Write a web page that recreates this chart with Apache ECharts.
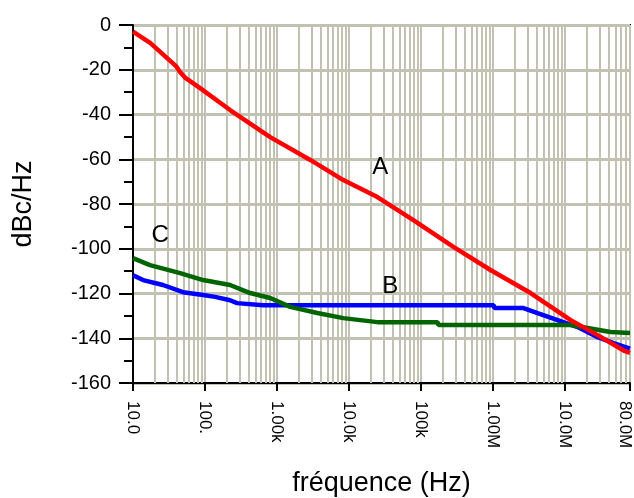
<!DOCTYPE html>
<html><head><meta charset="utf-8">
<script src="https://cdn.jsdelivr.net/npm/echarts@6/dist/echarts.min.js"></script>
<style>html,body{margin:0;padding:0;background:#fff}#c{width:634px;height:498px}</style>
</head><body><div id="c"></div>
<script>
// Frequencies in Hz, values in dBc/Hz
const freqA = [10, 17.3, 40, 45, 52.8, 85.5, 223, 804, 2900, 8340, 24800, 78400, 282000, 923000, 3.33e6, 1.2e7, 2.84e7, 6.53e7, 8e7];
const valA  = [-3, -8, -18.5, -21, -23.5, -28.2, -38, -50.1, -60.3, -69.3, -76.9, -87.2, -99.2, -109.5, -119.8, -131.9, -138.6, -145.5, -146.5];

const freqB = [10, 13.8, 26.1, 49.5, 94.1, 138, 223, 279, 642, 1.02e6, 1.05e6, 2.65e6, 4.16e6, 7.89e6, 1.5e7, 2.84e7, 4.74e7, 8e7];
const valB  = [-111.8, -114, -116.2, -119.4, -120.7, -121.5, -123, -124.3, -125.2, -125.2, -126.5, -126.5, -128.8, -131.9, -135, -139.5, -142.2, -144.6];

const freqC = [10, 17.2, 45.1, 94.1, 223, 424, 804, 1530, 3630, 8340, 24800, 169000, 175000, 1.2e7, 2.06e7, 4.3e7, 8e7];
const valC  = [-104.2, -107.3, -110.9, -114, -116.2, -119.8, -122, -126, -128.7, -131, -132.8, -132.8, -134.1, -134.1, -135.4, -137.2, -137.6];

const tickValues = [10, 100, 1e3, 1e4, 1e5, 1e6, 1e7, 8e7];
const tickLabels = ['10.0', '100.', '1.00k', '10.0k', '100k', '1.00M', '10.0M', '80.0M'];

const labelPos = { A: [27200, -63.5], B: [37500, -117], C: [23.8, -94] };

const minorMult = [2, 3, 4, 5, 6, 7, 8, 9];
const decades = [10, 100, 1e3, 1e4, 1e5, 1e6, 1e7];

const gridColor = '#c2c2b2';
const font = 'Liberation Sans, Arial, sans-serif';

const minorLines = [];
decades.forEach(d => minorMult.forEach(m => { if (d * m < 8e7) minorLines.push({ xAxis: d * m }); }));

function fmt(v) {
  for (let i = 0; i < tickValues.length; i++) {
    if (Math.abs(Math.log10(v) - Math.log10(tickValues[i])) < 0.01) {
      return i === tickValues.length - 1 ? '{last|' + tickLabels[i] + '}' : tickLabels[i];
    }
  }
  return '';
}

function mk(name, freqs, vals, color) {
  return {
    name: name, type: 'line', showSymbol: false, symbol: 'none',
    data: freqs.map((f, i) => [f, vals[i]]),
    lineStyle: { color: color, width: 4.5 }, itemStyle: { color: color },
    z: 6,
    markPoint: {
      z: 7,
      symbol: 'rect', symbolSize: 1, itemStyle: { color: 'rgba(0,0,0,0)' },
      label: { show: true, position: 'inside', formatter: name, fontSize: 24, color: '#000', fontFamily: font },
      data: [{ coord: labelPos[name] }]
    }
  };
}

const chart = echarts.init(document.getElementById('c'), null, { renderer: 'canvas' });
chart.setOption({
  animation: false,
  backgroundColor: '#fff',
  textStyle: { fontFamily: font },
  grid: { left: 133, top: 25, right: 4, bottom: 115, containLabel: false, outerBoundsMode: 'none', show: true, borderColor: '#000', borderWidth: 2, backgroundColor: 'transparent' },
  xAxis: {
    type: 'log', logBase: 10, min: 10, max: 8e7, splitNumber: 7,
    name: 'fréquence (Hz)', nameLocation: 'middle', nameGap: 87,
    nameTextStyle: { fontSize: 27, color: '#000', fontFamily: font },
    axisLine: { onZero: false, lineStyle: { color: '#000', width: 2 } },
    axisTick: { show: true, inside: false, length: 8, lineStyle: { color: '#000', width: 2 } },
    axisLabel: {
      rotate: -90, margin: 18, fontSize: 17, color: '#000', fontFamily: font, formatter: fmt,
      showMinLabel: true, showMaxLabel: true,
      rich: { last: { fontSize: 17, color: '#000', fontFamily: font, padding: [10, 0, 0, 0] } }
    },
    splitLine: { show: true, lineStyle: { color: gridColor, width: 2 } },
    minorTick: { show: false }
  },
  yAxis: {
    type: 'value', min: -160, max: 0, interval: 20,
    name: 'dBc/Hz', nameLocation: 'middle', nameGap: 96, nameRotate: 90,
    nameTextStyle: { fontSize: 27, color: '#000', fontFamily: font },
    axisLine: { show: true, onZero: false, lineStyle: { color: '#000', width: 2 } },
    axisTick: { show: true, length: 14, lineStyle: { color: '#000', width: 2 } },
    minorTick: { show: true, splitNumber: 2, length: 9, lineStyle: { color: '#000', width: 2 } },
    axisLabel: { fontSize: 20, margin: 22, color: '#000', fontFamily: font },
    splitLine: { show: true, lineStyle: { color: gridColor, width: 3 } }
  },
  series: [
    {
      name: 'grid', type: 'line', data: [], silent: true, z: 1,
      markLine: {
        z: 1, silent: true, symbol: ['none', 'none'], label: { show: false },
        lineStyle: { color: gridColor, width: 2, type: 'solid' },
        emphasis: { disabled: true },
        data: minorLines
      }
    },
    mk('B', freqB, valB, '#0000ff'),
    mk('C', freqC, valC, '#006400'),
    mk('A', freqA, valA, '#ff0000')
  ]
});
</script>
</body></html>
